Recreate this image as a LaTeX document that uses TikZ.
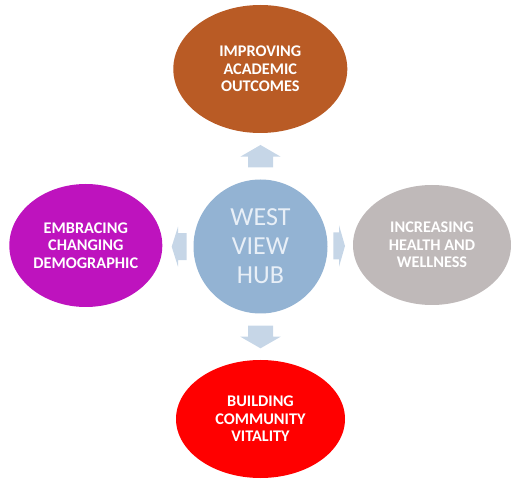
\documentclass[tikz,border=0pt]{standalone}
\usepackage{fontspec}
\setmainfont{Carlito}
\definecolor{hubblue}{HTML}{93B3D3}
\definecolor{hubtext}{HTML}{E8EFF7}
\definecolor{arrowblue}{HTML}{C6D6E7}
\definecolor{goalbrown}{HTML}{B95B25}
\definecolor{goalmagenta}{HTML}{BE13BE}
\definecolor{goalgrey}{HTML}{BFB9B9}
\definecolor{goalred}{HTML}{FF0000}
\tikzset{
	goal/.style={ellipse,inner sep=0,outer sep=0,text=white,align=center,
		font=\fontsize{12.2}{13.2}\selectfont\bfseries},
	hubarrow/.style={fill=arrowblue}
}
\usetikzlibrary{shapes.geometric}

\begin{document}
\begin{tikzpicture}[x=0.75pt,y=0.75pt]
	\useasboundingbox (0,0) rectangle (511,479);
	\node[circle,fill=hubblue,inner sep=0,outer sep=0,minimum size=100.5pt,text=hubtext,align=center,font=\fontsize{19.5}{21.75}\selectfont] (hub) at (260.5,232.5) {WEST\\VIEW\\HUB};
	\node[goal,fill=goalbrown,minimum width=130.5pt,minimum height=96pt] (academic) at (260.3,410) {IMPROVING\\ACADEMIC\\OUTCOMES};
	\node[goal,fill=goalmagenta,minimum width=114.75pt,minimum height=92.25pt] (demographic) at (85.8,233.5) {EMBRACING\\CHANGING\\DEMOGRAPHIC};
	\node[goal,fill=goalgrey,minimum width=118.5pt,minimum height=90pt] (wellness) at (432,234) {INCREASING\\HEALTH AND\\WELLNESS};
	\node[goal,fill=goalred,minimum width=126.75pt,minimum height=88.5pt] (community) at (260.5,60) {BUILDING\\COMMUNITY\\VITALITY};
	% block arrows round the hub
	\fill[hubarrow] (248,311.7) -- (248,322.3) -- (240.3,322.3) -- (260.5,334) -- (280.7,322.3) -- (273,322.3) -- (273,311.7) -- cycle;
	\fill[hubarrow] (248,153.3) -- (248,142.3) -- (240.3,142.3) -- (260.5,130.7) -- (280.7,142.3) -- (273,142.3) -- (273,153.3) -- cycle;
	\fill[hubarrow] (186.7,218.8) -- (178,218.8) -- (178,212.3) -- (171.7,232.3) -- (178,252.3) -- (178,245.8) -- (186.7,245.8) -- cycle;
	\fill[hubarrow] (333.3,219.5) -- (339,219.5) -- (339,212.2) -- (345,233) -- (339,253.8) -- (339,246.5) -- (333.3,246.5) -- cycle;
\end{tikzpicture}
\end{document}
